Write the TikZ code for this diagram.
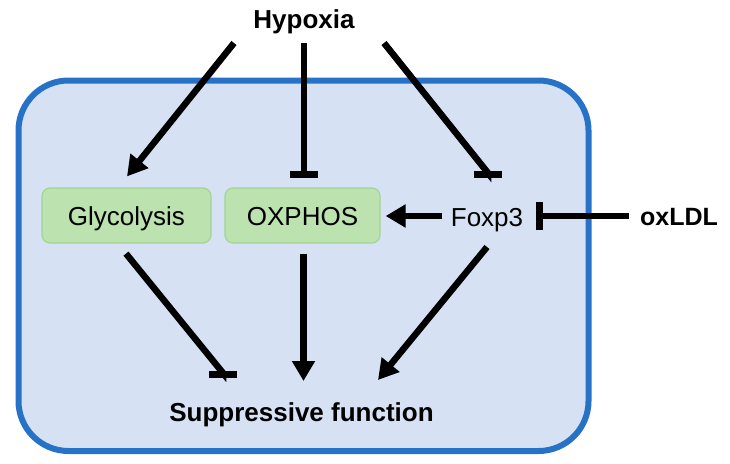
\documentclass[tikz,border=0pt]{standalone}
\usepackage{fontspec}
\setmainfont{Liberation Sans}
\usetikzlibrary{arrows.meta}

\definecolor{cellfill}{RGB}{214,226,243}
\definecolor{celledge}{RGB}{38,114,198}
\definecolor{boxfill}{RGB}{188,226,176}
\definecolor{boxedge}{RGB}{163,212,148}

\begin{document}
\begin{tikzpicture}[x = 1pt, y = -1pt,
	> = {Triangle[length = 20pt, width = 22pt]},
	act/.style = {line width = 6.5pt, ->},
	inh/.style = {line width = 6.5pt, -{Bar[width = 28pt, line width = 7pt]}},
	pathway/.style = {draw = boxedge, fill = boxfill, line width = 1.2pt, rounded corners = 8pt,
		minimum height = 55pt, text height = 19pt, text depth = 0pt, font = \fontsize{26}{30}\selectfont},
	plain/.style = {inner sep = 0pt, font = \fontsize{26}{30}\selectfont},
	signal/.style = {inner sep = 0pt, font = \fontsize{26}{30}\selectfont\bfseries}]

	\useasboundingbox (0, 0) rectangle (730, 463);

	% Cell

	\draw [line width = 6pt, draw = celledge, fill = cellfill, rounded corners = 50pt] (18.5, 80.5) rectangle (588.5, 451);

	% Nodes

	\node [signal, anchor = base] (hyp) at (304, 28) {Hypoxia};
	\node [pathway, minimum width = 169pt] (gly) at (126.5, 215.5) {Glycolysis};
	\node [pathway, minimum width = 155pt] (oxp) at (302.5, 215.5) {OXPHOS};
	\node [plain, anchor = base] (fox) at (487, 226) {Foxp3};
	\node [signal, anchor = base, font = \fontsize{25}{30}\selectfont\bfseries] (oxl) at (679, 225) {oxLDL};
	\node [signal, anchor = base] (sup) at (301.5, 421) {Suppressive function};

	% Connectors

	\draw [act] ([shift = {(-70, 15)}] hyp.base) -- ([shift = {(0.5, -11)}] gly.north);
	\draw [inh] ([shift = {(0, 15)}] hyp.base) -- ([shift = {(1.5, -9)}] oxp.north);
	\draw [inh] ([shift = {(80, 15)}] hyp.base) -- ([shift = {(1, -53)}] fox.base) -- ([shift = {(1, -48)}] fox.base);
	\draw [act] ([shift = {(-9, -10)}] fox.base west) -- ([shift = {(5, 0.5)}] oxp.east);
	\draw [inh] ([shift = {(-11, -9)}] oxl.base west) -- ([shift = {(13, -10)}] fox.base east);
	\draw [inh] ([shift = {(-0.5, 10)}] gly.south) -- ([shift = {(-78.5, -48)}] sup.base) -- ([shift = {(-78.5, -43)}] sup.base);
	\draw [act] ([shift = {(1, 10)}] oxp.south) -- ([shift = {(2, -40)}] sup.base);
	\draw [act] ([shift = {(0, 21)}] fox.base) -- ([shift = {(76.5, -41)}] sup.base);

\end{tikzpicture}
\end{document}
